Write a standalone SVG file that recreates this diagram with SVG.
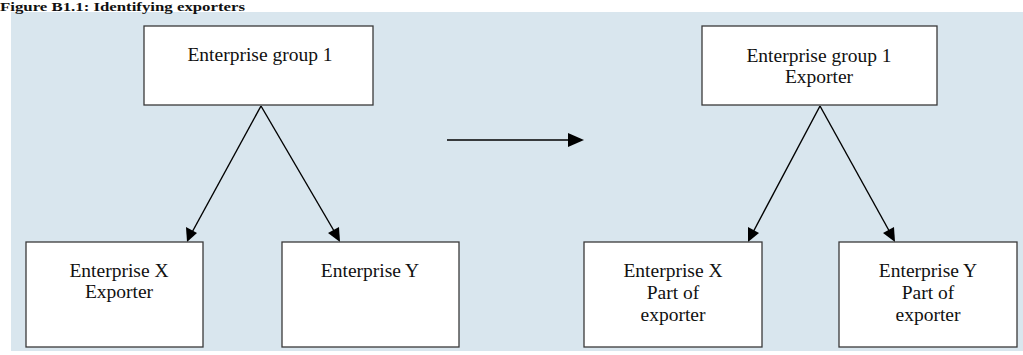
<svg xmlns="http://www.w3.org/2000/svg" width="1023" height="355" viewBox="0 0 1023 355">
<defs>
<style>
.box{fill:#ffffff;stroke:#3a3a3a;stroke-width:1.3}
.lbl{font-family:"Liberation Serif","Times New Roman",serif;font-size:19.5px;fill:#111;text-anchor:middle}
.title{font-family:"Liberation Serif","Times New Roman",serif;font-size:13.5px;font-weight:bold;fill:#111}
.conn{stroke:#000;stroke-width:1.4;fill:none}
.head{fill:#000}
</style>
</defs>
<rect x="11" y="12" width="1012" height="339" fill="#d9e6ee"/>
<text class="title" x="0" y="10.5" textLength="245" lengthAdjust="spacingAndGlyphs">Figure B1.1: Identifying exporters</text>
<g id="connectors">
<line class="conn" x1="261" y1="106" x2="190" y2="236"/>
<path class="head" d="M187,242 L186,227 L197,233 Z"/>
<line class="conn" x1="261" y1="106" x2="337" y2="236"/>
<path class="head" d="M340,242 L328,233 L339,227 Z"/>
<line class="conn" x1="447" y1="140" x2="570" y2="140"/>
<path class="head" d="M584,140 L568,133 L568,147 Z"/>
<line class="conn" x1="820" y1="106" x2="751" y2="236"/>
<path class="head" d="M748,242 L748,227 L759,233 Z"/>
<line class="conn" x1="820" y1="106" x2="892" y2="236"/>
<path class="head" d="M895,242 L883,233 L894,227 Z"/>
</g>
<g id="group1-left">
<rect class="box" x="144" y="26" width="229" height="79"/>
<text class="lbl" x="260" y="61">Enterprise group 1</text>
</g>
<g id="entX-left">
<rect class="box" x="26" y="242" width="177" height="105"/>
<text class="lbl" x="119" y="277">Enterprise X</text>
<text class="lbl" x="119" y="298">Exporter</text>
</g>
<g id="entY-left">
<rect class="box" x="282" y="242" width="177" height="105"/>
<text class="lbl" x="370" y="277">Enterprise Y</text>
</g>
<g id="group1-right">
<rect class="box" x="702" y="26" width="235" height="79"/>
<text class="lbl" x="819" y="62">Enterprise group 1</text>
<text class="lbl" x="819" y="83">Exporter</text>
</g>
<g id="entX-right">
<rect class="box" x="584" y="242" width="178" height="105"/>
<text class="lbl" x="673" y="277">Enterprise X</text>
<text class="lbl" x="673" y="299">Part of</text>
<text class="lbl" x="673" y="321">exporter</text>
</g>
<g id="entY-right">
<rect class="box" x="839" y="242" width="178" height="105"/>
<text class="lbl" x="928" y="277">Enterprise Y</text>
<text class="lbl" x="928" y="299">Part of</text>
<text class="lbl" x="928" y="321">exporter</text>
</g>
</svg>
